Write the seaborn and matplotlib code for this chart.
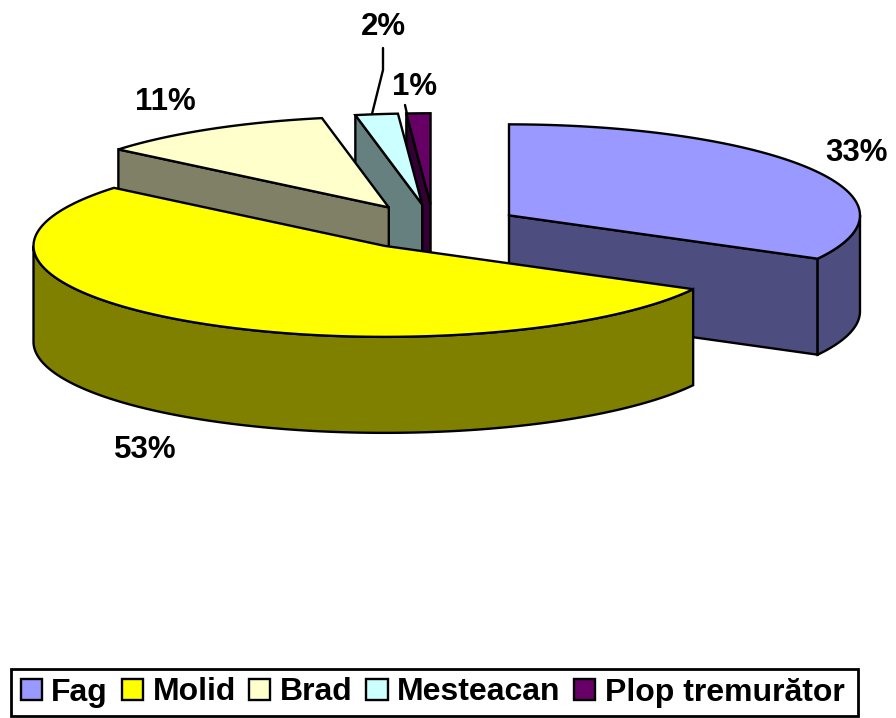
# -*- coding: utf-8 -*-

### Exploded 3D pie of tree species shares ###

import numpy as np
import matplotlib.pyplot as plt
from matplotlib.patches import Patch, Polygon, Rectangle
import seaborn as sns

sns.set_style("white")
plt.rcParams['font.family'] = ['Liberation Sans', 'DejaVu Sans']

## Data ##

species = ["Fag", "Molid", "Brad", "Mesteacan", "Plop tremurător"]
shares = [32.9, 53.1, 10.95, 1.95, 1.1]
face_colors = ["#9999FF", "#FFFF00", "#FFFFCC", "#CCFFFF", "#660066"]

## Layout (pixels of the 896x718 canvas) ##

center_x, center_y = 433.6, 227
radius_x, radius_y = 351, 91
depth = 96
explode = 0.25
line_w = 1.7
label_size = 22.5
legend_size = 23

label_pos = [(857, 153), (145, 449.5), (165, 102.5), (383, 27), (415, 87)]
leaders = {3: [(383, 48), (383, 70), (372, 114)], 4: [(405, 105), (407, 114)]}
legend_box = (11, 669, 847, 47)

palette = sns.color_palette(face_colors)
side_colors = [tuple(c * 0.5 for c in col) for col in palette]

## Functions ##

def rim_point(apex, deg, drop=0):
    a = np.radians(deg)
    return apex[0] + radius_x * np.sin(a), apex[1] - radius_y * np.cos(a) + drop

def arc(apex, start, end, drop=0):
    steps = max(int(end - start), 2) + 1
    return [rim_point(apex, d, drop) for d in np.linspace(start, end, steps)]

def wall(ax, apex, deg, color):
    p = rim_point(apex, deg)
    pts = [apex, p, (p[0], p[1] + depth), (apex[0], apex[1] + depth)]
    ax.add_patch(Polygon(pts, closed=True, fc=color, ec="black", lw=line_w))

def draw_slice(ax, apex, start, end, face, side):
    # hidden sides are skipped, only walls turned to the viewer are drawn
    if 180 < start < 360:
        wall(ax, apex, start, side)
    if 0 < end < 180:
        wall(ax, apex, end, side)
    low, high = max(start, 90), min(end, 270)
    if low < high:
        pts = arc(apex, low, high) + arc(apex, low, high, depth)[::-1]
        ax.add_patch(Polygon(pts, closed=True, fc=side, ec="black", lw=line_w))
    pts = [apex] + arc(apex, start, end)
    ax.add_patch(Polygon(pts, closed=True, fc=face, ec="black", lw=line_w))

## Plot ##

fig = plt.figure(figsize=(8.96, 7.18), dpi=100)
ax = fig.add_axes([0, 0, 1, 1])
ax.set_xlim(0, 896)
ax.set_ylim(718, 0)
sns.despine(ax=ax, left=True, bottom=True)
ax.set_axis_off()

edges = np.concatenate([[0], np.cumsum(shares)]) * 360 / sum(shares)
apexes = []
for i in range(len(shares)):
    mid = np.radians((edges[i] + edges[i + 1]) / 2)
    apexes.append((center_x + explode * radius_x * np.sin(mid),
                   center_y - explode * radius_y * np.cos(mid)))

# back to front: Fag, then the small slices, Molid last
for i in [0, 4, 3, 2, 1]:
    draw_slice(ax, apexes[i], edges[i], edges[i + 1], palette[i], side_colors[i])

for i, share in enumerate(shares):
    ax.text(label_pos[i][0], label_pos[i][1], f"{share:.0f}%", ha='center', va='center',
            fontsize=label_size, fontweight='bold', color='black')

for pts in leaders.values():
    ax.plot([p[0] for p in pts], [p[1] for p in pts], color='black', lw=line_w)

# frame is its own box, the legend has more room on the right than on the left
ax.add_patch(Rectangle(legend_box[:2], legend_box[2], legend_box[3], fc='white', ec='black', lw=2))
handles = [Patch(fc=c, ec='black', lw=line_w, label=s) for c, s in zip(palette, species)]
ax.legend(handles=handles, ncol=5, loc='center left',
          bbox_to_anchor=(legend_box[0], legend_box[1] + legend_box[3] / 2),
          bbox_transform=ax.transData, frameon=False, borderpad=0.3, borderaxespad=0,
          labelcolor='black', handlelength=0.66, handleheight=0.66, handletextpad=0.3,
          columnspacing=0.43, prop={'size': legend_size, 'weight': 'bold'})

plt.savefig("out.png", dpi=100)
